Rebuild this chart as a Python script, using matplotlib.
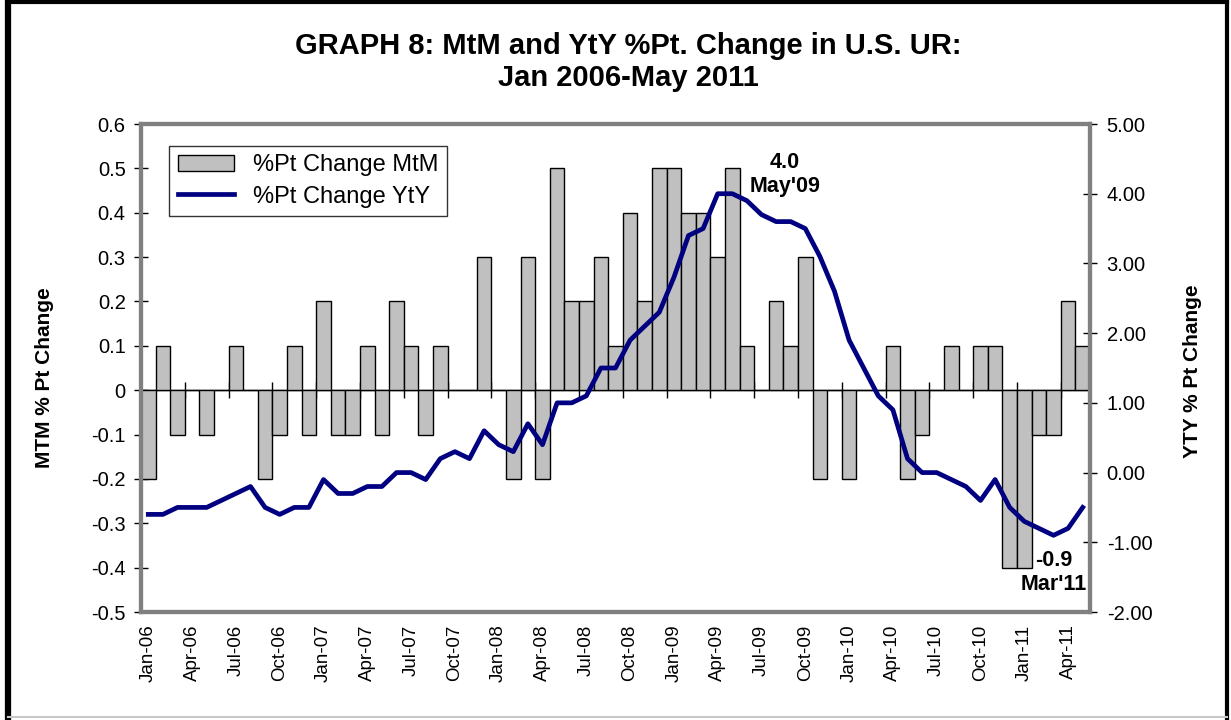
import numpy as np
import pandas as pd
import matplotlib
matplotlib.use('Agg')
import matplotlib.pyplot as plt
from matplotlib.lines import Line2D

plt.rcParams['font.family'] = ['Liberation Sans', 'DejaVu Sans']

# monthly categories Jan 2006 - May 2011
months = pd.date_range('2006-01-01', '2011-05-01', freq='MS')

# month-to-month %pt change (bars, left axis)
mtm = [-0.2, 0.1, -0.1, 0.0, -0.1, 0.0, 0.1, 0.0, -0.2, -0.1, 0.1, -0.1,
       0.2, -0.1, -0.1, 0.1, -0.1, 0.2, 0.1, -0.1, 0.1, 0.0, 0.0, 0.3,
       0.0, -0.2, 0.3, -0.2, 0.5, 0.2, 0.2, 0.3, 0.1, 0.4, 0.2, 0.5,
       0.5, 0.4, 0.4, 0.3, 0.5, 0.1, 0.0, 0.2, 0.1, 0.3, -0.2, 0.0,
       -0.2, 0.0, 0.0, 0.1, -0.2, -0.1, 0.0, 0.1, 0.0, 0.1, 0.1, -0.4,
       -0.4, -0.1, -0.1, 0.2, 0.1]

# year-to-year %pt change (line, right axis)
yty = [-0.6, -0.6, -0.5, -0.5, -0.5, -0.4, -0.3, -0.2, -0.5, -0.6, -0.5, -0.5,
       -0.1, -0.3, -0.3, -0.2, -0.2, 0.0, 0.0, -0.1, 0.2, 0.3, 0.2, 0.6,
       0.4, 0.3, 0.7, 0.4, 1.0, 1.0, 1.1, 1.5, 1.5, 1.9, 2.1, 2.3,
       2.8, 3.4, 3.5, 4.0, 4.0, 3.9, 3.7, 3.6, 3.6, 3.5, 3.1, 2.6,
       1.9, 1.5, 1.1, 0.9, 0.2, 0.0, 0.0, -0.1, -0.2, -0.4, -0.1, -0.5,
       -0.7, -0.8, -0.9, -0.8, -0.5]

tick_labels = ['Jan-06', 'Apr-06', 'Jul-06', 'Oct-06', 'Jan-07', 'Apr-07',
               'Jul-07', 'Oct-07', 'Jan-08', 'Apr-08', 'Jul-08', 'Oct-08',
               'Jan-09', 'Apr-09', 'Jul-09', 'Oct-09', 'Jan-10', 'Apr-10',
               'Jul-10', 'Oct-10', 'Jan-11', 'Apr-11']

# annotated points: (month index, label)
peak_idx, peak_txt = 40, "4.0\nMay'09"
low_idx, low_txt = 62, "-0.9\nMar'11"

x = np.arange(len(months))
NAVY = '#000080'
GRAY = '#808080'

fig = plt.figure(figsize=(12.31, 7.2), dpi=100)
ax = fig.add_axes([141/1231, 1-612/720, 949/1231, 488/720])
ax2 = ax.twinx()

bars = ax.bar(x, mtm, width=1.0, color='#C0C0C0', edgecolor='black',
              linewidth=1.0, zorder=2, label='%Pt Change MtM')
line, = ax2.plot(x, yty, color=NAVY, lw=3.4, solid_joinstyle='round',
                 label='%Pt Change YtY', zorder=3)

ax.set_xlim(-0.5, len(x) - 0.5)
ax.set_ylim(-0.5, 0.6)
ax2.set_ylim(-2, 5)

yl = np.round(np.arange(-0.5, 0.61, 0.1), 1)
ax.set_yticks(yl)
ax.set_yticklabels(['0' if v == 0 else f'{v:.1f}' for v in yl])
yr = np.arange(-2, 6)
ax2.set_yticks(yr)
ax2.set_yticklabels([f'{v:.2f}' for v in yr])

ax.set_xticks(x[::3])
ax.set_xticklabels(tick_labels, rotation=90)
ax.tick_params(axis='x', length=0, pad=9, labelsize=13.5)
ax.tick_params(axis='y', direction='inout', length=10, width=1, pad=6, labelsize=14.5)
ax2.tick_params(axis='y', direction='inout', length=10, width=1, pad=7, labelsize=14.5)

for a in (ax, ax2):
    for s in a.spines.values():
        s.set_color(GRAY)
        s.set_linewidth(3)

# category axis crossing at zero, with tick marks every quarter
zero_pos = (0 - ax.get_ylim()[0]) / (ax.get_ylim()[1] - ax.get_ylim()[0])
sec = ax.secondary_xaxis(zero_pos)
sec.set_xticks(x[3::3] - 0.5)
sec.tick_params(direction='inout', length=12, width=1, labelbottom=False,
                labeltop=False, color='black')
for s in sec.spines.values():
    s.set_color('black')
    s.set_linewidth(1)

leg = ax2.legend(handles=[bars, line], loc='upper left',
                 bbox_to_anchor=(0.03, 0.955), fontsize=17, frameon=True,
                 fancybox=False, borderaxespad=0, handlelength=2.4,
                 borderpad=0.35, labelspacing=0.4)
leg.get_frame().set_edgecolor('black')
leg.get_frame().set_linewidth(1)

ax2.annotate(peak_txt, xy=(x[peak_idx], yty[peak_idx]), xytext=(38, 14),
             textcoords='offset points', ha='center', va='center',
             fontsize=15.5, fontweight='bold', multialignment='center')
ax2.annotate(low_txt, xy=(x[low_idx], yty[low_idx]), xytext=(0, -27),
             textcoords='offset points', ha='center', va='center',
             fontsize=15.5, fontweight='bold', multialignment='center')

fig.text(628/1231, 1-62/720, 'GRAPH 8: MtM and YtY %Pt. Change in U.S. UR:\nJan 2006-May 2011',
         ha='center', va='center', fontsize=21, fontweight='bold', linespacing=1.2)
fig.text(45/1231, 1-378/720, 'MTM % Pt Change', rotation=90, ha='center',
         va='center', fontsize=15, fontweight='bold')
fig.text(1192/1231, 1-371/720, 'YTY % Pt Change', rotation=90, ha='center',
         va='center', fontsize=15, fontweight='bold')

# outer chart frame
fig.add_artist(Line2D([0.0065, 0.0065], [0.003, 0.997], color='black', lw=4.5))
fig.add_artist(Line2D([0.0065, 0.997], [0.997, 0.997], color='black', lw=3))
fig.add_artist(Line2D([0.997, 0.997], [0.003, 0.997], color='black', lw=3))
fig.add_artist(Line2D([0.0065, 0.997], [0.004, 0.004], color='#C8C8C8', lw=1.5))

fig.savefig('out.png', dpi=100)
